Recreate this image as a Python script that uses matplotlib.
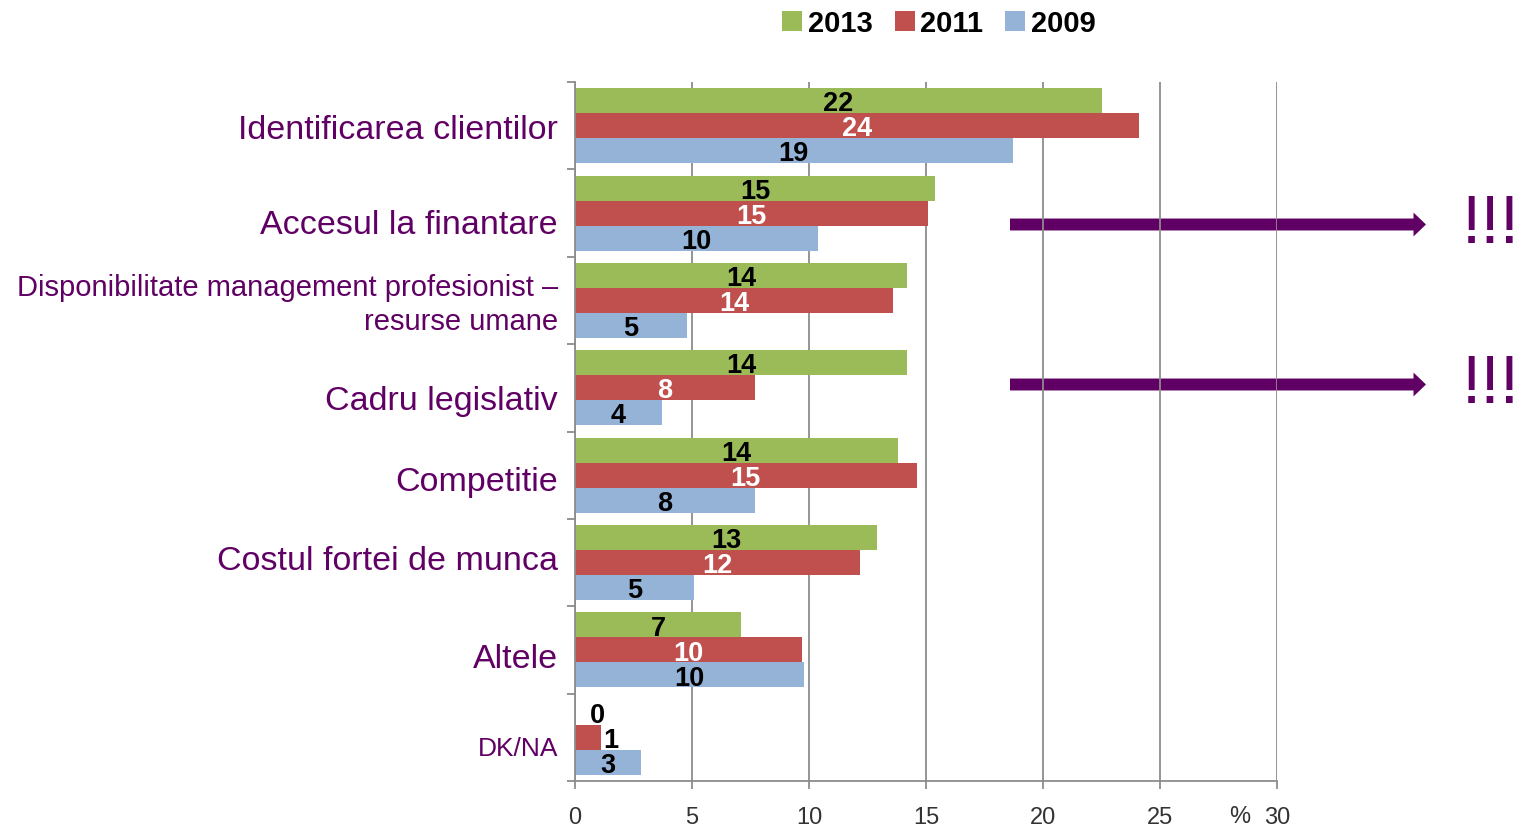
import matplotlib
matplotlib.use("Agg")
import matplotlib.pyplot as plt
import numpy as np
from matplotlib.patches import Patch
from matplotlib.transforms import blended_transform_factory, offset_copy

plt.rcParams['font.family'] = ['Liberation Sans', 'DejaVu Sans']

# ---------------- data ----------------
categories = [
    "Identificarea clientilor",
    "Accesul la finantare",
    "Disponibilitate management profesionist \u2013\nresurse umane",
    "Cadru legislativ",
    "Competitie",
    "Costul fortei de munca",
    "Altele",
    "DK/NA",
]
series_names = ["2013", "2011", "2009"]
values_2013 = [22.5, 15.4, 14.2, 14.2, 13.8, 12.9, 7.1, 0.0]
values_2011 = [24.1, 15.1, 13.6, 7.7, 14.6, 12.2, 9.7, 1.1]
values_2009 = [18.7, 10.4, 4.8, 3.7, 7.7, 5.1, 9.8, 2.8]
labels_2013 = ["22", "15", "14", "14", "14", "13", "7", "0"]
labels_2011 = ["24", "15", "14", "8", "15", "12", "10", "1"]
labels_2009 = ["19", "10", "5", "4", "8", "5", "10", "3"]
x_ticks = [0, 5, 10, 15, 20, 25, 30]
x_unit = "%"
emphasis_text = "!!!"

# ---------------- style ----------------
colors = ["#9BBB59", "#C0504D", "#95B3D7"]
label_colors = ["black", "white", "black"]
purple = "#600064"
grid_col = "#8C8C8C"
cat_sizes = [24.5, 24.5, 21, 24.5, 24.5, 24.5, 24.5, 19]
cat_dy = [0, 0.08, 0, 0.1, 0.03, -0.07, 0.05, 0.08]   # small vertical nudges of labels
arrow_rows_px = [225.5, 385.5]   # arrow vertical positions (pixels from top)

W, H = 1522, 828
fig = plt.figure(figsize=(W / 100, H / 100), dpi=100)
ax = fig.add_axes([575 / W, 1 - 782 / H, (1277 - 575) / W, (782 - 83) / H])

y = np.arange(len(categories))
bh = 0.286
series = [values_2013, values_2011, values_2009]
slabels = [labels_2013, labels_2011, labels_2009]
offsets = [-bh, 0, bh]

for k in range(3):
    ax.barh(y + offsets[k], series[k], height=bh, color=colors[k],
            edgecolor='none', zorder=2)
    for i, (v, lab) in enumerate(zip(series[k], slabels[k])):
        if v < 2:
            xt = max(v + 0.45, 0.95)
            c = "black"
        else:
            xt = v / 2
            c = label_colors[k]
        ax.text(xt, y[i] + offsets[k] + 0.03, lab, ha='center', va='center',
                fontsize=19.5, fontweight='bold', color=c, zorder=3)

ax.set_xlim(0, 30)
ax.set_ylim(len(categories) - 0.5, -0.5)
ax.set_xticks(x_ticks)
ax.set_xticklabels([str(t) for t in x_ticks])
ax.tick_params(axis='x', length=6, width=1.3, color=grid_col, labelsize=17,
               labelcolor='#333333', pad=12)
ax.set_yticks(y)
ax.set_yticklabels([])
ax.tick_params(axis='y', which='major', length=0)
ax.set_yticks(np.arange(-0.5, len(categories), 1), minor=True)
ax.tick_params(axis='y', which='minor', length=6, width=1.3, color=grid_col)

# category labels
tr = offset_copy(blended_transform_factory(ax.transAxes, ax.transData), fig=fig,
                 x=-17, y=-4, units='dots')
for i, (cat, s) in enumerate(zip(categories, cat_sizes)):
    ax.text(0, y[i] + cat_dy[i], cat, transform=tr, ha='right', va='center',
            multialignment='right', fontsize=s, color=purple, linespacing=1.27)

ax.grid(axis='x', color=grid_col, linewidth=1.3)
ax.set_axisbelow(True)
for s in ['top', 'right']:
    ax.spines[s].set_visible(False)
for s in ['left', 'bottom']:
    ax.spines[s].set_color(grid_col)
    ax.spines[s].set_linewidth(1.3)

fig.text(1240 / W, 1 - 817 / H, x_unit, ha='center', va='center',
         fontsize=17, color='#333333')

# legend
handles = [Patch(facecolor=c, edgecolor='none') for c in colors]
fig.legend(handles, series_names, loc='center', bbox_to_anchor=(939 / W, 1 - 24 / H),
           ncol=3, frameon=False, prop={'weight': 'bold', 'size': 21},
           handlelength=0.68, handleheight=0.68, handletextpad=0.2,
           columnspacing=0.75, borderpad=0)

# arrows and emphasis
for yp in arrow_rows_px:
    ypix = H - yp
    ax.annotate("", xy=(1426, ypix), xytext=(1010, ypix),
                xycoords='figure pixels', textcoords='figure pixels',
                arrowprops=dict(arrowstyle='simple,head_length=0.45,head_width=0.86,tail_width=0.43',
                                mutation_scale=20, color=purple, lw=0,
                                shrinkA=0, shrinkB=0),
                zorder=0.4, annotation_clip=False)
    fig.text(1491 / W, (ypix - 17.5) / H, emphasis_text, ha='center', va='baseline',
             fontsize=50, color=purple)

fig.savefig("out.png", dpi=100)
